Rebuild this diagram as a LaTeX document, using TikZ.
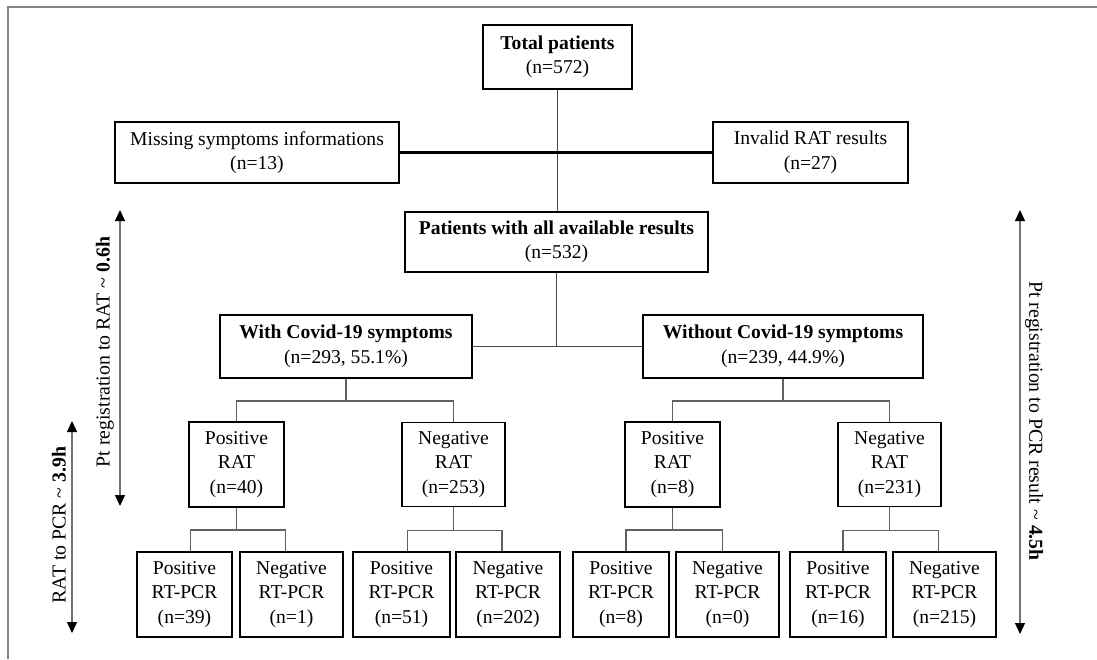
\documentclass[tikz,border=0pt]{standalone}
\usepackage{fontspec}
\setmainfont{Liberation Serif}
\usetikzlibrary{arrows.meta}
\begin{document}
\begin{tikzpicture}[x=1pt,y=-1pt,
  box/.style={draw=black, line width=1.9pt, align=center, inner sep=0pt,
    font=\fontsize{19.6}{24.5}\selectfont},
  conn/.style={draw=black!62, line width=1.1pt},
  mainconn/.style={draw=black!72, line width=1.1pt},
  thickconn/.style={draw=black, line width=2.1pt},
  lab/.style={inner sep=0pt, font=\fontsize{19.8}{24.5}\selectfont},
  timearrow/.style={draw=black!55, line width=1.1pt,
    {Triangle[width=10pt,length=11pt,color=black,fill=black]}-{Triangle[width=10pt,length=11pt,color=black,fill=black]}},
  framel/.style={draw=black!48, line width=1.5pt}]
\useasboundingbox (0,0) rectangle (1097,659);
\draw[framel] (8,659) -- (8,7) -- (1097,7);

% boxes
\node[box, minimum width=149pt, minimum height=64pt] (total) at (557.5,57) {\textbf{Total patients}\\(n=572)};
\node[box, minimum width=284pt, minimum height=61pt] (missing) at (257,152.5) {Missing symptoms informations\\(n=13)};
\node[box, minimum width=195pt, minimum height=61pt] (invalid) at (810.5,152.5) {Invalid RAT results\\(n=27)};
\node[box, minimum width=303pt, minimum height=60pt] (patients) at (556.5,242) {\textbf{Patients with all available results}\\(n=532)};
\node[box, minimum width=252pt, minimum height=63pt] (withc) at (346,346.5) {\textbf{With Covid-19 symptoms}\\(n=293, 55.1\%)};
\node[box, minimum width=280pt, minimum height=63pt] (without) at (783,346.5) {\textbf{Without Covid-19 symptoms}\\(n=239, 44.9\%)};

\node[box, minimum width=95pt, minimum height=85pt] (posrat1) at (236.5,464.5) {Positive\\RAT\\(n=40)};
\node[box, minimum width=103pt, minimum height=84pt] (negrat1) at (453.5,464.5) {Negative\\RAT\\(n=253)};
\node[box, minimum width=95pt, minimum height=85pt] (posrat2) at (672.5,464.5) {Positive\\RAT\\(n=8)};
\node[box, minimum width=103pt, minimum height=84pt] (negrat2) at (889.5,464.5) {Negative\\RAT\\(n=231)};

\node[box, minimum width=95pt, minimum height=85pt] (l1) at (184.5,594.5) {Positive\\RT-PCR\\(n=39)};
\node[box, minimum width=103pt, minimum height=85pt] (l2) at (291.5,594.5) {Negative\\RT-PCR\\(n=1)};
\node[box, minimum width=97pt, minimum height=85pt] (l3) at (401.5,594.5) {Positive\\RT-PCR\\(n=51)};
\node[box, minimum width=104pt, minimum height=85pt] (l4) at (508,594.5) {Negative\\RT-PCR\\(n=202)};
\node[box, minimum width=96pt, minimum height=85pt] (l5) at (621,594.5) {Positive\\RT-PCR\\(n=8)};
\node[box, minimum width=103pt, minimum height=85pt] (l6) at (727.5,594.5) {Negative\\RT-PCR\\(n=0)};
\node[box, minimum width=96pt, minimum height=85pt] (l7) at (838,594.5) {Positive\\RT-PCR\\(n=16)};
\node[box, minimum width=103pt, minimum height=85pt] (l8) at (944.5,594.5) {Negative\\RT-PCR\\(n=215)};

% top connectors
\draw[mainconn] (total.south) -- (total.south |- patients.north);
\draw[thickconn] (missing.east) -- (invalid.west);
\draw[mainconn] (patients.south) -- (patients.south |- withc.east);
\draw[mainconn] (withc.east) -- (without.west);

% tree connectors
\path (withc.south) ++(0,22) coordinate (wj);
\draw[conn] (withc.south) -- (wj);
\draw[conn] (posrat1.north) |- (wj) -| (negrat1.north);
\path (without.south) ++(0,22) coordinate (woj);
\draw[conn] (without.south) -- (woj);
\draw[conn] (posrat2.north) |- (woj) -| (negrat2.north);

\path (posrat1.south) ++(0,22) coordinate (p1j);
\draw[conn] (posrat1.south) -- (p1j);
\draw[conn] ([xshift=6pt]l1.north) |- (p1j) -| ([xshift=-6pt]l2.north);
\path (negrat1.south) ++(0,23) coordinate (n1j);
\draw[conn] (negrat1.south) -- (n1j);
\draw[conn] ([xshift=6pt]l3.north) |- (n1j) -| ([xshift=-6pt]l4.north);
\path (posrat2.south) ++(0,22) coordinate (p2j);
\draw[conn] (posrat2.south) -- (p2j);
\draw[conn] ([xshift=5pt]l5.north) |- (p2j) -| ([xshift=-5pt]l6.north);
\path (negrat2.south) ++(0,23) coordinate (n2j);
\draw[conn] (negrat2.south) -- (n2j);
\draw[conn] ([xshift=5pt]l7.north) |- (n2j) -| ([xshift=-6pt]l8.north);

% time arrows
\coordinate (a1t) at (120,210);
\coordinate (a1b) at (120,506);
\coordinate (a2t) at (72,421);
\coordinate (a2b) at (72,633);
\coordinate (a3t) at (1020,210);
\coordinate (a3b) at (1020,634);
\draw[timearrow] (a1t) -- (a1b);
\draw[timearrow] (a2t) -- (a2b);
\draw[timearrow] (a3t) -- (a3b);
\node[lab, rotate=90] (t1) at (105,352) {Pt registration to RAT \textasciitilde{} \textbf{0.6h}};
\node[lab, rotate=90] (t2) at (59,525) {RAT to PCR \textasciitilde{} \textbf{3.9h}};
\node[lab, rotate=-90] (t3) at (1034,421) {Pt registration to PCR result \textasciitilde{} \textbf{4.5h}};
\end{tikzpicture}
\end{document}
